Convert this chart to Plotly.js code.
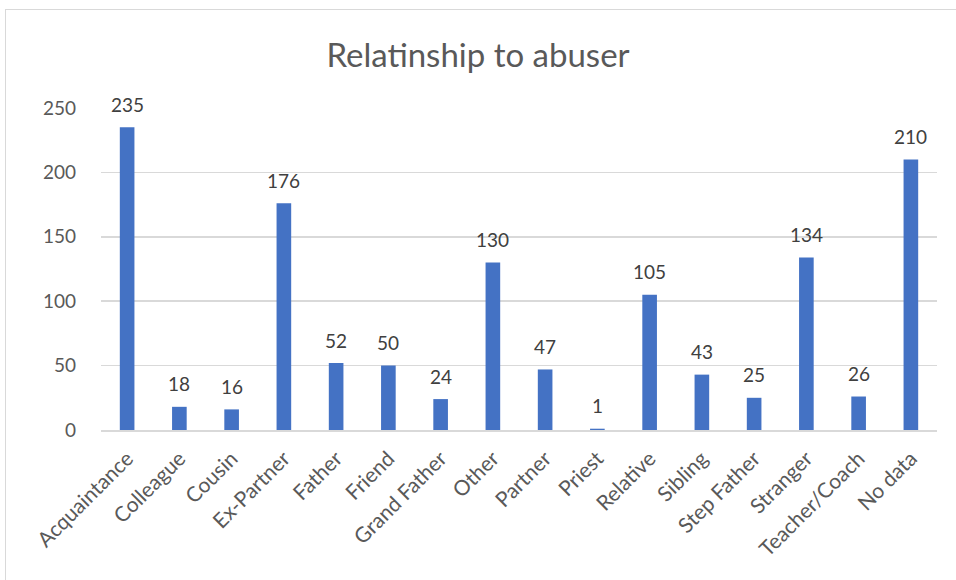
<!DOCTYPE html>
<html>
<head>
<meta charset="utf-8">
<script src="https://cdn.plot.ly/plotly-3.0.1.min.js"></script>
<style>
html,body{margin:0;padding:0;background:#fff;}
#chart{width:956px;height:580px;}
#frame{position:absolute;left:5px;top:9px;width:960px;height:580px;border:1.5px solid #d9d9d9;pointer-events:none;}
</style>
</head>
<body>
<div id="chart"></div>
<div id="frame"></div>
<script>
const categories = ["Acquaintance","Colleague","Cousin","Ex-Partner","Father","Friend","Grand Father","Other","Partner","Priest","Relative","Sibling","Step Father","Stranger","Teacher/Coach","No data"];
const counts = [235,18,16,176,52,50,24,130,47,1,105,43,25,134,26,210];
const yTicks = [0,50,100,150,200,250];

const font = "Lato, 'Open Sans', sans-serif";
const trace = {
  type: "bar",
  x: categories,
  y: counts,
  marker: {color: "#4472c4"},
  hoverinfo: "x+y"
};
const annotations = categories.map((c,i)=>({
  x: c, y: counts[i], xref: "x", yref: "y",
  text: String(counts[i]), showarrow: false,
  yanchor: "middle", yshift: 23,
  font: {family: font, size: 19, color: "#404040"}
}));
const layout = {
  width: 956, height: 580,
  margin: {l: 101, r: 19, t: 108, b: 150},
  paper_bgcolor: "#fff", plot_bgcolor: "#fff",
  bargap: 0.72,
  showlegend: false,
  title: {text: "Relatinship to abuser", x: 0.5, xanchor: "center", y: 0.905, yanchor: "middle",
          font: {family: font, size: 33, color: "#595959"}},
  xaxis: {tickangle: -45, tickfont: {family: font, size: 21, color: "#595959"},
          showline: true, linecolor: "#d9d9d9", linewidth: 2, ticks: "", showgrid: false,
          ticklabelstandoff: 6},
  yaxis: {range: [0, 250], tickvals: yTicks, ticktext: yTicks.map(String),
          tickfont: {family: font, size: 19, color: "#595959"},
          showgrid: true, gridcolor: "#d9d9d9", gridwidth: 1.5, zeroline: false,
          showline: false, ticks: "", ticklabelstandoff: 24},
  annotations: annotations
};
Plotly.newPlot("chart", [trace], layout, {displayModeBar: false, staticPlot: true});
</script>
</body>
</html>
